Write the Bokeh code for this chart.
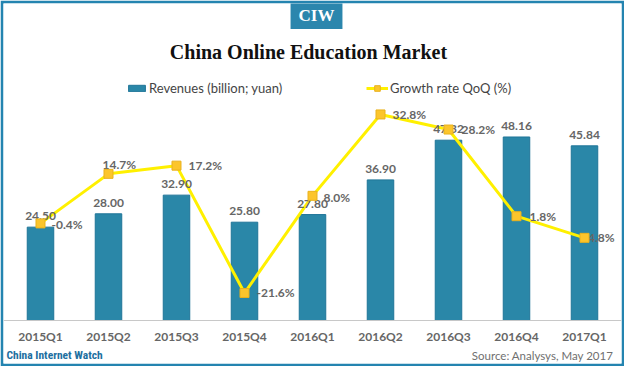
from bokeh.plotting import figure
from bokeh.models import (ColumnDataSource, FactorRange, Range1d, Label, Legend,
                          LegendItem, Span)
from bokeh.core.properties import value
from bokeh.embed import file_html
from bokeh.resources import INLINE

# ---- data ----
quarters = ["2015Q1", "2015Q2", "2015Q3", "2015Q4", "2016Q1",
            "2016Q2", "2016Q3", "2016Q4", "2017Q1"]
revenues = [24.50, 28.00, 32.90, 25.80, 27.80, 36.90, 47.32, 48.16, 45.84]
growth = [-0.4, 14.7, 17.2, -21.6, 8.0, 32.8, 28.2, 1.8, -4.8]
revenue_labels = ["24.50", "28.00", "32.90", "25.80", "27.80", "36.90", "47.32", "48.16", "45.84"]
growth_labels = ["-0.4%", "14.7%", "17.2%", "-21.6%", "8.0%", "32.8%", "28.2%", "1.8%", "-4.8%"]
base = [0] * len(quarters)

# ---- label placement (style, not data) ----
g_dx = [11, -6, 12, 12, 11, 12, 13, 13, -1]
g_dy = [1, -9, 0, 0, 2, 0, 0, 0, 0]

TEAL = "#2484b0"
BAR = "#2a87a8"
GRAY_TXT = "#666666"
FONT = "Lato"

src = ColumnDataSource(dict(q=quarters, rev=revenues, g=growth, base=base,
                            rl=revenue_labels, gl=growth_labels,
                            dx=g_dx, dy=g_dy))

BW = 3                      # frame border (drawn by the teal border fill)
W, H = 624, 366
FW, FH = W - 2 * BW, H - 2 * BW   # inner frame size 618 x 360
p = figure(width=W, height=H, output_backend="svg", toolbar_location=None,
           x_range=FactorRange(*quarters, range_padding=0.0098),
           y_range=Range1d(-11.29, 83.2),
           x_axis_location=None, y_axis_location=None,
           min_border_left=BW, min_border_right=BW, min_border_top=BW,
           min_border_bottom=BW)
p.extra_y_ranges = {"g": Range1d(-43.08, 66.6)}

p.xgrid.visible = False
p.ygrid.visible = False
p.outline_line_color = None
p.background_fill_color = "white"
p.border_fill_color = TEAL

# category baseline
p.add_layout(Span(location=0, dimension="width", line_color="#c8c8c8", line_width=1))

bars = p.vbar(x="q", top="rev", bottom=0, width=0.39, source=src,
              fill_color=BAR, line_color="#1f7598", line_width=1)
line_r = p.line(x="q", y="g", source=src, y_range_name="g",
                line_color="#fff000", line_width=3)
# category tick labels
p.text(x="q", y="base", text="q", source=src, text_align="center",
       text_baseline="middle", y_offset=16, text_font=value(FONT),
       text_font_style="bold", text_font_size="12px", text_color=GRAY_TXT)
p.text(x="q", y="rev", text="rl", source=src, text_align="center",
       text_baseline="middle", y_offset=-11, text_font=value(FONT),
       text_font_style="bold", text_font_size="12px", text_color=GRAY_TXT)
p.text(x="q", y="g", text="gl", source=src, y_range_name="g",
       x_offset="dx", y_offset="dy", text_align="left", text_baseline="middle",
       text_font=value(FONT), text_font_style="bold", text_font_size="12px",
       text_color=GRAY_TXT)
marks = p.scatter(x="q", y="g", source=src, y_range_name="g", marker="square",
                  size=9, fill_color="#fcc52c", line_color="#e9b21e", line_width=1)

p.add_layout(Label(x=305, y=FH - 48, x_units="screen", y_units="screen",
                   text="China Online Education Market", text_align="center",
                   text_baseline="middle", text_font="Liberation Serif",
                   text_font_style="bold", text_font_size="20px", text_color="#111111"))
p.add_layout(Label(x=313, y=FH - 12, x_units="screen", y_units="screen",
                   text="CIW", text_align="center", text_baseline="middle",
                   text_font="Liberation Serif", text_font_style="bold",
                   text_font_size="17px", text_color="white",
                   background_fill_color="#2b86ad", padding=(8, 4)))
p.add_layout(Label(x=3, y=9, x_units="screen", y_units="screen",
                   text="China Internet Watch", text_align="left",
                   text_baseline="middle",
                   text_font="'Roboto Condensed', 'Liberation Sans Narrow', Roboto, sans-serif",
                   text_font_style="bold", text_font_size="11.5px", text_color="#1d6fa0"))
p.add_layout(Label(x=610, y=8, x_units="screen", y_units="screen",
                   text="Source: Analysys, May 2017", text_align="right",
                   text_baseline="middle", text_font=FONT,
                   text_font_size="11.5px", text_color="#707070"))

leg1 = Legend(items=[LegendItem(label="Revenues (billion; yuan)", renderers=[bars])],
              location=(123, 267), orientation="horizontal", glyph_width=21,
              glyph_height=8, label_standoff=2, label_height=14, padding=0, margin=0,
              border_line_color=None, background_fill_alpha=0,
              label_text_font=FONT, label_text_font_size="13px", label_text_color="#444444")
leg2 = Legend(items=[LegendItem(label="Growth rate QoQ (%)", renderers=[line_r, marks])],
              location=(363, 267), orientation="horizontal", glyph_width=22,
              glyph_height=14, label_standoff=2, label_height=14, padding=0, margin=0,
              border_line_color=None, background_fill_alpha=0,
              label_text_font=FONT, label_text_font_size="13px", label_text_color="#444444")
p.add_layout(leg1, "center")
p.add_layout(leg2, "center")

open("out.html", "w").write(file_html(p, INLINE))
